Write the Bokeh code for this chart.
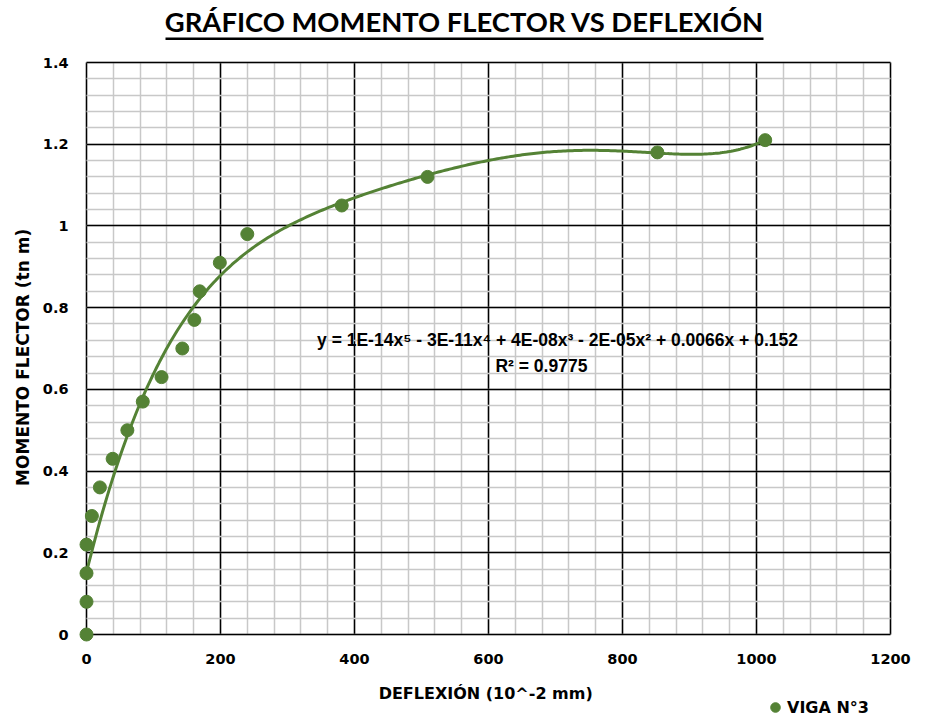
import numpy as np
from bokeh.plotting import figure
from bokeh.models import (FixedTicker, NumeralTickFormatter, Label, BoxAnnotation,
                          Legend, LegendItem, Range1d)
from bokeh.embed import file_html
from bokeh.resources import INLINE

# ---- data ----
deflexion = [0, 0, 0, 0, 8, 20, 39, 61, 84, 112, 143, 161, 169, 199, 240, 381, 509, 852, 1013]
momento = [0.0, 0.08, 0.15, 0.22, 0.29, 0.36, 0.43, 0.50, 0.57, 0.63, 0.70, 0.77, 0.84,
           0.91, 0.98, 1.05, 1.12, 1.18, 1.21]
x_ticks = [0, 200, 400, 600, 800, 1000, 1200]
x_minor = list(range(0, 1201, 40))
y_ticks = [0, 0.2, 0.4, 0.6, 0.8, 1.0, 1.2, 1.4]
y_minor = [round(i * 0.04, 2) for i in range(36)]
series_name = "VIGA N°3"
title_text = "GRÁFICO MOMENTO FLECTOR VS DEFLEXIÓN"
x_label = "DEFLEXIÓN  (10^-2 mm)"
y_label = "MOMENTO  FLECTOR  (tn  m)"
eq_text = "y = 1E-14x⁵ - 3E-11x⁴ + 4E-08x³ - 2E-05x² + 0.0066x + 0.152"
r2_text = "R² = 0.9775"

GREEN = "#548235"
TICK_FONT = "DejaVu Sans"
EQ_FONT = "Liberation Sans"

# polynomial (order 5) trendline fitted to the data
coef = np.polyfit(deflexion, momento, 5)
xt = np.linspace(min(deflexion), max(deflexion), 300)
yt = np.polyval(coef, xt)

# page geometry of the plotting area (pixels)
W, H = 930, 720
PX_L, PX_R, PX_T, PX_B = 86, 890, 62, 634
X0, X1 = x_ticks[0], x_ticks[-1]
Y0, Y1 = y_ticks[0], y_ticks[-1]
kx = (X1 - X0) / (PX_R - PX_L)
ky = (Y1 - Y0) / (PX_B - PX_T)
x_rng = Range1d(X0 - PX_L * kx, X1 + (W - PX_R) * kx)
y_rng = Range1d(Y0 - (H - PX_B) * ky, Y1 + PX_T * ky)

p = figure(width=W, height=H, x_range=x_rng, y_range=y_rng,
           output_backend="svg", toolbar_location=None,
           min_border_left=0, min_border_right=0, min_border_top=0, min_border_bottom=0)
p.background_fill_color = "white"
p.border_fill_color = "white"
p.outline_line_color = None

for ax in (p.xaxis, p.yaxis):
    ax.fixed_location = 0
    ax.axis_line_color = None
    ax.major_tick_line_color = None
    ax.minor_tick_line_color = None
    ax.major_tick_out = 0
    ax.major_tick_in = 0
    ax.minor_tick_out = 0
    ax.minor_tick_in = 0
    ax.major_label_text_font = TICK_FONT
    ax.major_label_text_font_style = "bold"
    ax.major_label_text_font_size = "14.5px"
    ax.major_label_text_color = "black"
    ax.axis_label_text_font = TICK_FONT
    ax.axis_label_text_font_style = "bold"
    ax.axis_label_text_color = "black"

p.xaxis.bounds = (X0, X1)
p.yaxis.bounds = (Y0, Y1)
p.xaxis.axis_label_text_font_size = "16px"
p.yaxis.axis_label_text_font_size = "17px"
p.xaxis.ticker = FixedTicker(ticks=x_ticks, minor_ticks=x_minor)
p.yaxis.ticker = FixedTicker(ticks=y_ticks, minor_ticks=y_minor)
p.yaxis.formatter = NumeralTickFormatter(format="0.[0]")
p.xaxis.major_label_standoff = 19
p.yaxis.major_label_standoff = 18
p.xaxis.axis_label = x_label
p.yaxis.axis_label = y_label
p.xaxis.axis_label_standoff = 17
p.yaxis.axis_label_standoff = 7

for g in (p.xgrid, p.ygrid):
    g.grid_line_color = "black"
    g.grid_line_width = 1.5
    g.minor_grid_line_color = "#c8c8c8"
    g.minor_grid_line_width = 1.5
p.xgrid.bounds = (X0, X1)
p.xgrid.cross_bounds = (Y0, Y1)
p.ygrid.bounds = (Y0, Y1)
p.ygrid.cross_bounds = (X0, X1)

line = p.line(xt, yt, line_color=GREEN, line_width=3)
sc = p.scatter(deflexion, momento, size=13, fill_color=GREEN, line_color=GREEN)

# trendline equation
p.add_layout(Label(x=703, y=0.72, text=eq_text, text_align="center", text_baseline="middle",
                   text_font=EQ_FONT, text_font_style="bold", text_font_size="17.5px",
                   text_color="black"))
p.add_layout(Label(x=679, y=0.657, text=r2_text, text_align="center", text_baseline="middle",
                   text_font=EQ_FONT, text_font_style="bold", text_font_size="17.5px",
                   text_color="black"))

# title and its underline (pixel positions converted to data space)
def dx(px):
    return X0 + (px - PX_L) * kx

def dy(py):
    return Y0 + (PX_B - py) * ky

p.add_layout(Label(x=dx(464), y=dy(21), text=title_text, text_align="center",
                   text_baseline="alphabetic", text_font="Lato", text_font_style="bold",
                   text_font_size="27.4px", text_color="black"))
p.add_layout(BoxAnnotation(left=dx(165), right=dx(763), top=dy(37), bottom=dy(39.5),
                           fill_color="black", fill_alpha=1, line_color=None))

legend = Legend(items=[LegendItem(label=series_name, renderers=[sc])],
                location=(763, 0), padding=0, margin=0, spacing=0,
                glyph_width=24, glyph_height=26, label_standoff=0,
                border_line_color=None, background_fill_alpha=0,
                label_text_font=TICK_FONT, label_text_font_style="bold",
                label_text_font_size="16px", label_text_color="black")
p.add_layout(legend)

open("out.html", "w").write(file_html(p, INLINE))
